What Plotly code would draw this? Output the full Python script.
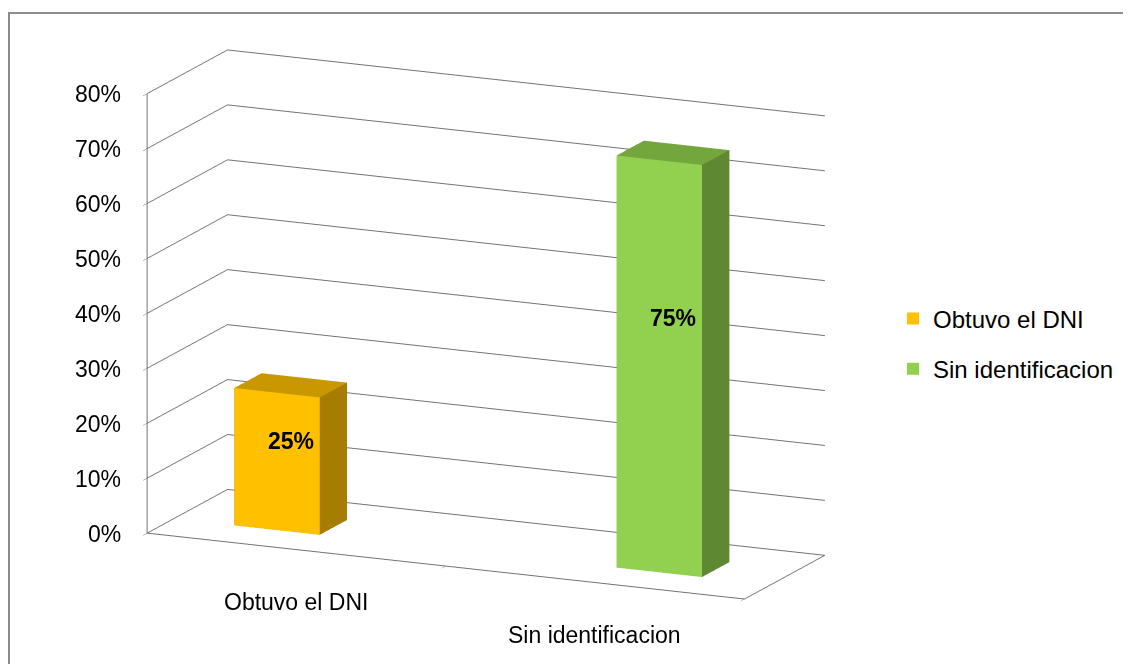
import plotly.graph_objects as go

# ---- data ----
categories = ["Obtuvo el DNI", "Sin identificacion"]
values = [0.25, 0.75]
value_labels = ["25%", "75%"]
front_colors = ["#FFC000", "#92D050"]
top_colors = ["#C99800", "#74A63E"]
side_colors = ["#A67D00", "#5F8832"]
z_ticks = [0, 0.1, 0.2, 0.3, 0.4, 0.5, 0.6, 0.7, 0.8]
z_tick_labels = ["0%", "10%", "20%", "30%", "40%", "50%", "60%", "70%", "80%"]

# geometry of the 3D chart (category units)
BAR_HALF = 0.143
BAR_SPREAD = 1.28      # bars drawn spread about the middle, as in the source render
BAR_MID = 0.486
DEPTH0, DEPTH1 = 0.33, 0.67
X_RANGE = [-0.5, len(categories) - 0.5]
Y_RANGE = [0, 1]
Z_RANGE = [0, 0.8]

GRID = "#747474"
FONT = "Liberation Sans, Arial, sans-serif"
W, H = 1123, 656  # page body has an 8px margin


def bar_x(idx):
    return BAR_MID + (idx - (len(categories) - 1) / 2) * BAR_SPREAD


def box(xc, h, front, top, side):
    x0, x1 = xc - BAR_HALF, xc + BAR_HALF
    y0, y1 = DEPTH0, DEPTH1
    vx = [x0, x1, x1, x0, x0, x1, x1, x0]
    vy = [y0, y0, y1, y1, y0, y0, y1, y1]
    vz = [0, 0, 0, 0, h, h, h, h]
    faces = [
        (0, 1, 2, side), (0, 2, 3, side),        # bottom
        (4, 5, 6, top), (4, 6, 7, top),          # top
        (0, 1, 5, front), (0, 5, 4, front),      # front (y0)
        (3, 2, 6, side), (3, 6, 7, side),        # back
        (1, 2, 6, side), (1, 6, 5, side),        # right side
        (0, 3, 7, side), (0, 7, 4, side),        # left side
    ]
    return go.Mesh3d(
        x=vx, y=vy, z=vz,
        i=[f[0] for f in faces], j=[f[1] for f in faces], k=[f[2] for f in faces],
        facecolor=[f[3] for f in faces],
        flatshading=True,
        lighting=dict(ambient=1, diffuse=0, specular=0, fresnel=0, roughness=1),
        hoverinfo="skip", showlegend=False, showscale=False,
    )


fig = go.Figure()
for idx, (cat, v) in enumerate(zip(categories, values)):
    fig.add_trace(box(bar_x(idx), v, front_colors[idx], top_colors[idx], side_colors[idx]))

# legend entries
for idx, cat in enumerate(categories):
    fig.add_trace(go.Scatter3d(
        x=[None], y=[None], z=[None], mode="markers", name=cat,
        legendgroup=cat,
        marker=dict(symbol="square", size=16, color=front_colors[idx]),
        hoverinfo="skip",
    ))

annotations = []
for idx, (v, lab) in enumerate(zip(values, value_labels)):
    annotations.append(dict(x=bar_x(idx), y=(DEPTH0 + DEPTH1) / 2, z=v * 0.6,
                            text="<b>%s</b>" % lab, showarrow=False,
                            font=dict(size=23, color="black", family=FONT)))
for idx, cat in enumerate(categories):
    annotations.append(dict(x=idx, y=0, z=0, text=cat, showarrow=False, yshift=-52,
                            font=dict(size=23, color="black", family=FONT)))
for t, lab in zip(z_ticks, z_tick_labels):
    annotations.append(dict(x=X_RANGE[0], y=0, z=t, text=lab, showarrow=False,
                            xanchor="right", xshift=-24,
                            font=dict(size=23, color="black", family=FONT)))

axis_common = dict(showbackground=False, showspikes=False, zeroline=False,
                   title=dict(text=""), linecolor=GRID, linewidth=2,
                   gridcolor=GRID, gridwidth=2, tickcolor=GRID, showticklabels=False)

fig.update_layout(
    width=W, height=H,
    margin=dict(l=0, r=0, t=0, b=0),
    paper_bgcolor="white",
    font=dict(family=FONT, color="black"),
    scene=dict(
        domain=dict(x=[0, 0.851], y=[0.043, 0.9904]),
        xaxis=dict(range=X_RANGE, showgrid=False,
                   tickvals=[-0.5, 0.5, 1.5], ticks="outside", ticklen=8,
                   showline=True, **axis_common),
        yaxis=dict(range=Y_RANGE, showgrid=False,
                   ticks="", showline=True, **axis_common),
        zaxis=dict(range=Z_RANGE, tickvals=z_ticks,
                   ticks="outside", ticklen=8, showline=True, showgrid=True,
                   **axis_common),
        aspectmode="manual",
        aspectratio=dict(x=2.11, y=0.63, z=1.46),
        camera=dict(eye=dict(x=0.291, y=-0.646, z=0.179),
                    center=dict(x=0, y=0, z=0),
                    up=dict(x=0, y=0, z=1),
                    projection=dict(type="orthographic")),
        annotations=annotations,
    ),
    legend=dict(x=885 / W, y=0.488, xanchor="left", yanchor="middle",
                font=dict(size=24, family=FONT, color="black"),
                tracegroupgap=16, itemsizing="constant", itemwidth=30),
    shapes=[dict(type="rect", xref="paper", yref="paper",
                 x0=1 / W, x1=1.05, y0=-0.05, y1=1 - 5 / H,
                 line=dict(color="#8C8C8C", width=2), fillcolor="rgba(0,0,0,0)")],
)

fig.write_html("out.html")
